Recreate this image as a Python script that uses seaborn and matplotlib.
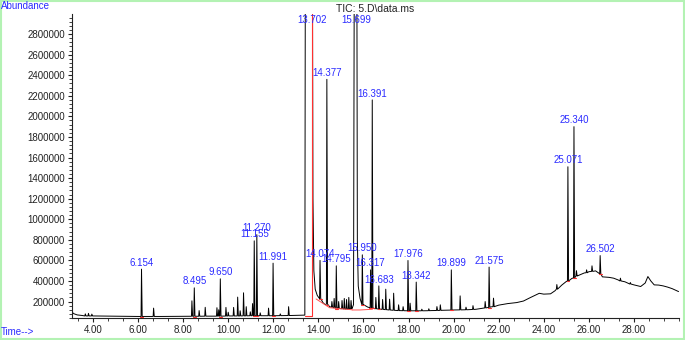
import numpy as np
import pandas as pd
import matplotlib
matplotlib.use("Agg")
import matplotlib.pyplot as plt
from matplotlib.ticker import FixedLocator, AutoMinorLocator, FuncFormatter
from matplotlib.patches import Rectangle
import seaborn as sns

# fondo del cromatograma (tiempo en min, abundancia)
bg_time = [3.08, 3.15, 3.3, 3.5, 4.0, 5.0, 6.0, 7.0, 8.0, 9.1, 10.1, 11.03, 12.1, 13.0, 13.38,
           13.40, 13.42, 13.74, 13.76, 13.80, 13.86, 13.95, 14.03, 14.2, 14.3, 14.5, 14.85, 15.0,
           15.3, 15.5, 15.56, 15.59, 15.71, 15.73, 15.77, 15.85, 16.0, 16.2, 16.5, 17.08, 17.5,
           18.03, 18.5, 19.0, 19.5, 20.0, 20.5, 21.0, 21.3, 21.65, 22.0, 22.4, 22.8, 23.1, 23.4,
           23.8, 24.0, 24.3, 24.5, 24.8, 25.0, 25.25, 25.5, 25.8, 26.0, 26.3, 26.6, 26.9, 27.1,
           27.3, 27.6, 28.0, 28.3, 28.5, 28.62, 28.75, 28.9, 29.1, 29.3, 29.5, 29.7, 29.98]
bg_abund = [95000, 82000, 70000, 65000, 60000, 57000, 55000, 55000, 57000, 58000, 60000, 62000,
            62000, 66000, 68000,
            68000, 3200000, 3200000, 1200000, 500000, 320000, 260000, 235000, 190000, 170000,
            150000, 135000, 130000,
            125000, 135000, 170000, 3200000, 3200000, 800000, 350000, 230000, 170000, 145000,
            130000, 120000, 112000,
            110000, 110000, 112000, 115000, 118000, 120000, 125000, 135000, 148000, 165000,
            180000, 190000, 205000, 238000,
            280000, 272000, 275000, 305000, 360000, 395000, 425000, 450000, 478000, 490000,
            498000, 440000, 435000, 427000,
            410000, 392000, 362000, 346000, 380000, 443000, 400000, 362000, 360000, 352000,
            340000, 325000, 297000]

# picos: tiempo de retención, ápice, base
peak_rt = [3.66, 3.80, 3.95, 6.154, 6.69, 8.39, 8.495, 8.71, 8.98, 9.50, 9.58, 9.650, 9.90,
           10.0, 10.24, 10.42, 10.53, 10.68, 10.80, 10.98, 11.08, 11.155, 11.270, 11.42, 11.79,
           11.991, 12.31, 12.68, 14.074, 14.377, 14.60, 14.70, 14.795, 14.90, 15.05, 15.15,
           15.25, 15.35, 15.45, 15.950, 16.317, 16.391, 16.55, 16.683, 16.85, 16.99, 17.16,
           17.34, 17.56, 17.76, 17.976, 18.07, 18.342, 18.59, 18.9, 19.26, 19.41, 19.899, 20.29,
           20.55, 20.86, 21.40, 21.575, 21.77, 24.58, 25.071, 25.340, 25.45, 25.9, 26.14,
           26.502, 27.4, 27.84]
peak_top = [80000, 85000, 78000, 515000, 136000, 207000, 333000, 112000, 144000, 140000, 120000,
            421000, 143000,
            96000, 143000, 243000, 110000, 285000, 150000, 100000, 180000, 790000, 850000, 90000,
            136000,
            573000, 80000, 150000, 600000, 2360000, 200000, 230000, 547000, 200000, 210000,
            230000,
            220000, 240000, 210000, 654000, 508000, 2160000, 240000, 352000, 220000, 320000,
            223000,
            281000, 168000, 150000, 599000, 184000, 389000, 126000, 130000, 151000, 168000,
            508000, 255000,
            145000, 160000, 200000, 535000, 233000, 365000, 1510000, 1900000, 500000, 508000,
            547000,
            647000, 427000, 385000]
peak_foot = [60000, 60000, 60000, 55000, 55000, 57000, 57000, 57000, 58000, 58000, 58000, 58000,
             59000,
             60000, 60000, 60000, 60000, 61000, 61000, 62000, 62000, 62000, 62000, 62000, 62000,
             62000, 63000, 64000, 230000, 175000, 145000, 140000, 135000, 132000, 130000, 128000,
             126000, 125000, 130000, 170000, 140000, 138000, 130000, 127000, 124000, 121000,
             118000,
             115000, 112000, 111000, 110000, 110000, 110000, 110000, 111000, 113000, 114000,
             117000, 119000,
             120000, 123000, 138000, 143000, 150000, 320000, 400000, 430000, 448000, 480000,
             493000,
             470000, 400000, 370000]

# etiquetas de picos integrados
label_rt = [6.154, 8.495, 9.650, 11.155, 11.270, 11.991, 13.702, 14.074, 14.377, 14.795,
            15.699, 15.950, 16.317, 16.391, 16.683, 17.976, 18.342, 19.899, 21.575, 25.071,
            25.340, 26.502]
saturated_rt = [13.702, 15.699]

rows = list(zip(bg_time, bg_abund))
for rt, top, foot in zip(peak_rt, peak_top, peak_foot):
    rows += [(rt - 0.02, foot), (rt, top), (rt + 0.03, foot)]
trace = pd.DataFrame(rows, columns=["time", "abundance"]).sort_values("time")

sns.set_style("ticks")
plt.rcParams["font.family"] = ["Liberation Sans", "DejaVu Sans"]

fig = plt.figure(figsize=(6.85, 3.4), dpi=100)
ax = fig.add_axes([72 / 685, 1 - 318 / 340, (679 - 72) / 685, (318 - 14) / 340])

sns.lineplot(data=trace, x="time", y="abundance", estimator=None, sort=False,
             color="black", linewidth=0.7, ax=ax)

ytop = 2995000
ax.set_xlim(3.07, 30.0)
ax.set_ylim(40000, ytop)

# marcas rojas de integración
foot_of = dict(zip(peak_rt, peak_foot))
top_of = dict(zip(peak_rt, peak_top))
for rt in label_rt:
    if rt in saturated_rt:
        continue
    f = foot_of[rt]
    ax.plot([rt - 0.05, rt + 0.07], [f - 4000, f - 4000], color="#ff3030", lw=0.8)
ax.plot([13.42, 13.70, 13.70], [64000, 64000, ytop], color="#ff3030", lw=0.8)
ax.plot([13.9, 14.5, 15.5], [225000, 140000, 120000], color="#ff5050", lw=0.7)
ax.plot([15.5, 15.85, 16.4], [118000, 118000, 125000], color="#ff5050", lw=0.7)

blue = "#2a2aff"
for rt in label_rt:
    txt = f"{rt:.3f}"
    if rt in saturated_rt:
        ax.annotate(txt, (rt, ytop), xytext=(0, -1), textcoords="offset points",
                    ha="center", va="top", fontsize=7, color=blue)
    else:
        ax.annotate(txt, (rt, top_of[rt]), xytext=(0, 1), textcoords="offset points",
                    ha="center", va="bottom", fontsize=7, color=blue)

ax.xaxis.set_major_locator(FixedLocator(np.arange(4, 29, 2)))
ax.xaxis.set_minor_locator(AutoMinorLocator(3))
ax.xaxis.set_major_formatter(FuncFormatter(lambda v, p: f"{v:.2f}"))
ax.yaxis.set_major_locator(FixedLocator(np.arange(200000, 2800001, 200000)))
ax.yaxis.set_minor_locator(AutoMinorLocator(5))
ax.yaxis.set_major_formatter(FuncFormatter(lambda v, p: f"{v:.0f}"))
ax.tick_params(axis="both", which="major", length=3, width=0.8, labelsize=7,
               colors="#222222", pad=2)
ax.tick_params(axis="both", which="minor", length=2, width=0.6, colors="#222222")
ax.set_xlabel("")
ax.set_ylabel("")
sns.despine(ax=ax)
for s in ["left", "bottom"]:
    ax.spines[s].set_linewidth(0.8)
    ax.spines[s].set_color("#222222")

fig.text(1 / 685, 1 - 1 / 340, "Abundance", ha="left", va="top", fontsize=7, color=blue)
fig.text(1 / 685, 3 / 340, "Time-->", ha="left", va="bottom", fontsize=7, color=blue)
fig.text(375.5 / 685, 1 - 9.5 / 340, "TIC: 5.D\\data.ms", ha="center", va="center",
         fontsize=7.5, color="#222222")

fig.patches.append(Rectangle((0.001, 0.002), 0.997, 0.995, transform=fig.transFigure,
                             fill=False, edgecolor="#b3f2b3", linewidth=1.5))

fig.savefig("out.png", dpi=100)
